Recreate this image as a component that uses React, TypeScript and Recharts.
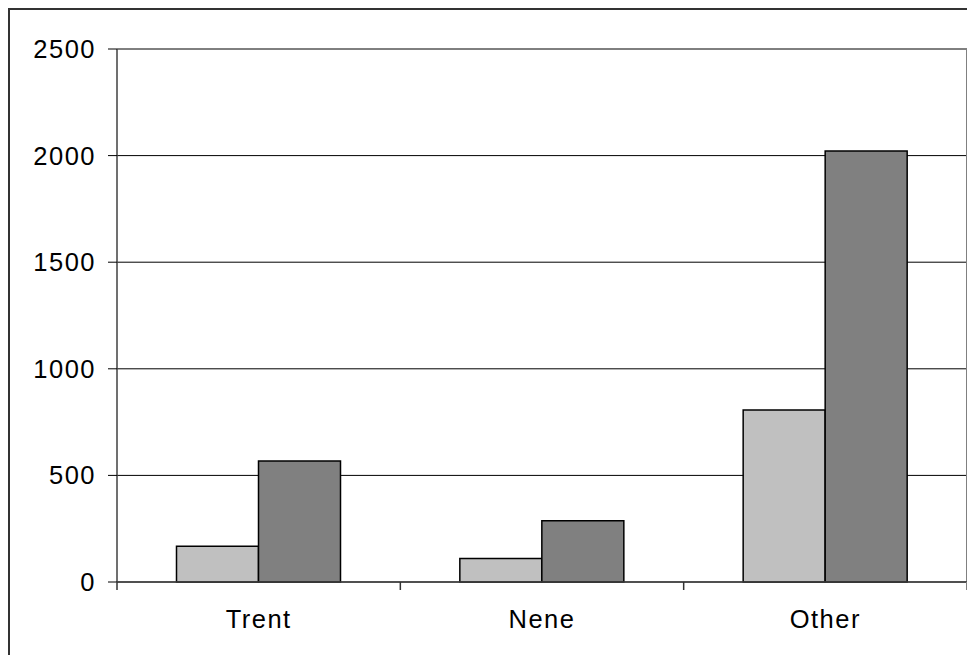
import { BarChart, Bar, XAxis, YAxis, CartesianGrid, ReferenceLine } from 'recharts';

const categories = ['Trent', 'Nene', 'Other'];
const series1 = [168, 110, 807];
const series2 = [568, 287, 2021];
const yTicks = [0, 500, 1000, 1500, 2000, 2500];

const data = categories.map((name, i) => ({ name, series1: series1[i], series2: series2[i] }));

const FONT = '"Liberation Sans", Arial, sans-serif';
const PLOT_W = 850;
const BAND = PLOT_W / categories.length;

// category label plus Excel-style tick marks on the band edges
function CategoryTick(props: any) {
  const { x, y, payload, index } = props;
  const last = index === categories.length - 1;
  return (
    <g>
      <line x1={x - BAND / 2} x2={x - BAND / 2} y1={y - 8} y2={y} stroke="#333" strokeWidth={1.5} />
      {last && <line x1={x + BAND / 2} x2={x + BAND / 2} y1={y - 8} y2={y} stroke="#808080" strokeWidth={2} />}
      <text
        x={x}
        y={y + 38}
        textAnchor="middle"
        fill="#000"
        fontSize={25.5}
        fontFamily={FONT}
        letterSpacing={1.5}
      >
        {payload.value}
      </text>
    </g>
  );
}

export default function App() {
  return (
    <div
      style={{
        width: 967,
        height: 647,
        borderTop: '2px solid #333',
        borderLeft: '2px solid #333',
        boxSizing: 'border-box',
        background: '#fff',
      }}
    >
      <BarChart
        width={965}
        height={645}
        data={data}
        margin={{ top: 39, right: 8, left: 0, bottom: 27 }}
        barCategoryGap="21%"
        barGap={0}
      >
        <CartesianGrid vertical={false} stroke="#000" strokeWidth={1} />
        <XAxis
          dataKey="name"
          height={46}
          tickSize={8}
          tickMargin={0}
          tickLine={false}
          axisLine={{ stroke: '#404040', strokeWidth: 1.5 }}
          tick={<CategoryTick />}
          interval={0}
        />
        <YAxis
          domain={[0, 2500]}
          ticks={yTicks}
          width={107}
          tickSize={9}
          tickMargin={12}
          axisLine={{ stroke: '#404040', strokeWidth: 1.5 }}
          tickLine={{ stroke: '#000' }}
          tick={{ fontSize: 25.5, fill: '#000', fontFamily: FONT, letterSpacing: 1.5 }}
        />
        {/* plot area right border */}
        <ReferenceLine x="Other" position="end" stroke="#808080" strokeWidth={2} ifOverflow="visible" />
        <Bar dataKey="series1" fill="#C0C0C0" stroke="#000" strokeWidth={1.5} isAnimationActive={false} />
        <Bar dataKey="series2" fill="#808080" stroke="#000" strokeWidth={1.5} isAnimationActive={false} />
      </BarChart>
    </div>
  );
}
